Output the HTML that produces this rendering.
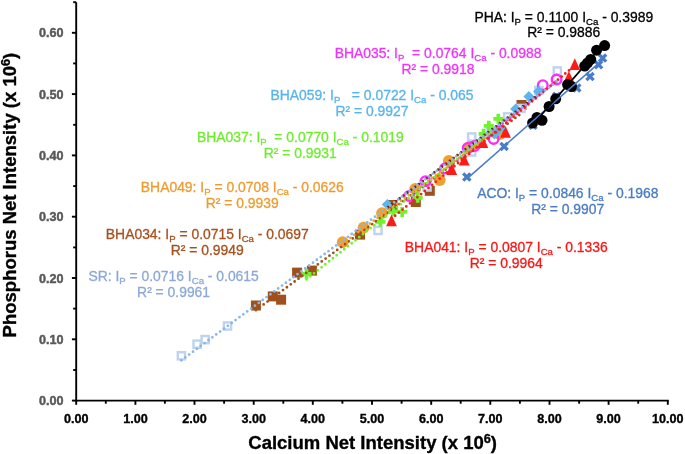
<!DOCTYPE html>
<html><head><meta charset="utf-8"><style>
html,body{margin:0;padding:0;background:#fff;width:685px;height:454px;overflow:hidden}
svg{display:block;will-change:transform}
</style></head><body>
<svg width="685" height="454" viewBox="0 0 685 454">
<rect x="250.9" y="300.5" width="10" height="10" fill="#A0501C"/>
<rect x="267.8" y="291.4" width="10" height="10" fill="#A0501C"/>
<rect x="276.1" y="294.7" width="10" height="10" fill="#A0501C"/>
<rect x="292.1" y="267.6" width="10" height="10" fill="#A0501C"/>
<rect x="306.9" y="265.6" width="10" height="10" fill="#A0501C"/>
<rect x="355.0" y="229.6" width="10" height="10" fill="#A0501C"/>
<rect x="387.5" y="200.0" width="10" height="10" fill="#A0501C"/>
<rect x="410.8" y="197.0" width="10" height="10" fill="#A0501C"/>
<rect x="424.8" y="185.8" width="10" height="10" fill="#A0501C"/>
<rect x="516.5" y="100.0" width="10" height="10" fill="#A0501C"/>
<rect x="177.8" y="352.2" width="7.2" height="7.2" fill="#fff" stroke="#BDD3EF" stroke-width="2.4"/>
<rect x="193.5" y="340.6" width="7.2" height="7.2" fill="#fff" stroke="#BDD3EF" stroke-width="2.4"/>
<rect x="201.6" y="336.0" width="7.2" height="7.2" fill="#fff" stroke="#BDD3EF" stroke-width="2.4"/>
<rect x="223.9" y="322.4" width="7.2" height="7.2" fill="#fff" stroke="#BDD3EF" stroke-width="2.4"/>
<rect x="374.4" y="226.8" width="7.2" height="7.2" fill="#fff" stroke="#BDD3EF" stroke-width="2.4"/>
<rect x="423.4" y="183.4" width="7.2" height="7.2" fill="#fff" stroke="#BDD3EF" stroke-width="2.4"/>
<rect x="468.1" y="133.4" width="7.2" height="7.2" fill="#fff" stroke="#BDD3EF" stroke-width="2.4"/>
<rect x="468.1" y="148.4" width="7.2" height="7.2" fill="#fff" stroke="#BDD3EF" stroke-width="2.4"/>
<rect x="487.3" y="127.5" width="7.2" height="7.2" fill="#fff" stroke="#BDD3EF" stroke-width="2.4"/>
<rect x="504.1" y="113.3" width="7.2" height="7.2" fill="#fff" stroke="#BDD3EF" stroke-width="2.4"/>
<rect x="517.4" y="104.9" width="7.2" height="7.2" fill="#fff" stroke="#BDD3EF" stroke-width="2.4"/>
<rect x="535.2" y="86.9" width="7.2" height="7.2" fill="#fff" stroke="#BDD3EF" stroke-width="2.4"/>
<rect x="553.7" y="67.4" width="7.2" height="7.2" fill="#fff" stroke="#BDD3EF" stroke-width="2.4"/>
<circle cx="342.7" cy="242.2" r="5.9" fill="#F0A030"/>
<circle cx="363.5" cy="227.7" r="5.9" fill="#F0A030"/>
<circle cx="382.0" cy="213.2" r="5.9" fill="#F0A030"/>
<circle cx="415.2" cy="188.8" r="5.9" fill="#F0A030"/>
<circle cx="439.8" cy="180.0" r="5.9" fill="#F0A030"/>
<circle cx="448.8" cy="161.0" r="5.9" fill="#F0A030"/>
<circle cx="469.7" cy="147.0" r="5.9" fill="#F0A030"/>
<circle cx="500.0" cy="134.0" r="5.9" fill="#F0A030"/>
<circle cx="409.2" cy="195.9" r="4.80" fill="none" stroke="#FF2BFF" stroke-width="2.4"/>
<circle cx="425.5" cy="181.2" r="4.80" fill="none" stroke="#FF2BFF" stroke-width="2.4"/>
<circle cx="445.0" cy="168.5" r="4.80" fill="none" stroke="#FF2BFF" stroke-width="2.4"/>
<circle cx="467.7" cy="147.9" r="4.80" fill="none" stroke="#FF2BFF" stroke-width="2.4"/>
<circle cx="474.6" cy="145.9" r="4.80" fill="none" stroke="#FF2BFF" stroke-width="2.4"/>
<circle cx="493.6" cy="139.0" r="4.80" fill="none" stroke="#FF2BFF" stroke-width="2.4"/>
<circle cx="542.8" cy="85.2" r="4.80" fill="none" stroke="#FF2BFF" stroke-width="2.4"/>
<circle cx="556.6" cy="79.5" r="4.80" fill="none" stroke="#FF2BFF" stroke-width="2.4"/>
<path d="M301.5 273.8H311.5M306.5 268.8V278.8" stroke="#70F22E" stroke-width="3.7"/>
<path d="M375.4 221.8H385.4M380.4 216.8V226.8" stroke="#70F22E" stroke-width="3.7"/>
<path d="M388.3 211.4H398.3M393.3 206.4V216.4" stroke="#70F22E" stroke-width="3.7"/>
<path d="M397.2 211.9H407.2M402.2 206.9V216.9" stroke="#70F22E" stroke-width="3.7"/>
<path d="M412.7 197.8H422.7M417.7 192.8V202.8" stroke="#70F22E" stroke-width="3.7"/>
<path d="M478.6 133.8H488.6M483.6 128.8V138.8" stroke="#70F22E" stroke-width="3.7"/>
<path d="M483.8 125.8H493.8M488.8 120.8V130.8" stroke="#70F22E" stroke-width="3.7"/>
<path d="M493.3 118.8H503.3M498.3 113.8V123.8" stroke="#70F22E" stroke-width="3.7"/>
<path d="M391.5 214.6L396.9 226.2L386.1 226.2Z" fill="#FF1A1A"/>
<path d="M451.8 163.3L457.2 174.9L446.4 174.9Z" fill="#FF1A1A"/>
<path d="M464.2 153.9L469.6 165.5L458.8 165.5Z" fill="#FF1A1A"/>
<path d="M482.9 136.3L488.3 147.9L477.5 147.9Z" fill="#FF1A1A"/>
<path d="M505.5 126.1L510.9 137.7L500.1 137.7Z" fill="#FF1A1A"/>
<path d="M568.9 70.9L574.3 82.5L563.5 82.5Z" fill="#FF1A1A"/>
<path d="M574.8 58.3L580.2 69.9L569.4 69.9Z" fill="#FF1A1A"/>
<path d="M387.3 198.9L392.8 204.4L387.3 209.9L381.8 204.4Z" fill="#5CB6EE"/>
<path d="M494.5 128.5L500.0 134.0L494.5 139.5L489.0 134.0Z" fill="#5CB6EE"/>
<path d="M499.5 123.0L505.0 128.5L499.5 134.0L494.0 128.5Z" fill="#5CB6EE"/>
<path d="M515.6 103.4L521.1 108.9L515.6 114.4L510.1 108.9Z" fill="#5CB6EE"/>
<path d="M528.9 90.9L534.4 96.4L528.9 101.9L523.4 96.4Z" fill="#5CB6EE"/>
<path d="M538.5 86.0L544.0 91.5L538.5 97.0L533.0 91.5Z" fill="#5CB6EE"/>
<path d="M463.2 173.4L470.4 180.6M463.2 180.6L470.4 173.4" stroke="#4A7CC8" stroke-width="3.3"/>
<path d="M500.5 142.8L507.7 150.0M500.5 150.0L507.7 142.8" stroke="#4A7CC8" stroke-width="3.3"/>
<path d="M529.4 121.7L536.6 128.9M529.4 128.9L536.6 121.7" stroke="#4A7CC8" stroke-width="3.3"/>
<path d="M552.9 92.9L560.1 100.1M552.9 100.1L560.1 92.9" stroke="#4A7CC8" stroke-width="3.3"/>
<path d="M573.2 84.3L580.4 91.5M573.2 91.5L580.4 84.3" stroke="#4A7CC8" stroke-width="3.3"/>
<path d="M586.4 73.0L593.6 80.2M586.4 80.2L593.6 73.0" stroke="#4A7CC8" stroke-width="3.3"/>
<path d="M595.0 61.1L602.2 68.3M595.0 68.3L602.2 61.1" stroke="#4A7CC8" stroke-width="3.3"/>
<path d="M599.0 54.5L606.2 61.7M599.0 61.7L606.2 54.5" stroke="#4A7CC8" stroke-width="3.3"/>
<circle cx="532.6" cy="123.0" r="5.5" fill="#000000"/>
<circle cx="537.0" cy="117.5" r="5.5" fill="#000000"/>
<circle cx="542.0" cy="120.3" r="5.5" fill="#000000"/>
<circle cx="549.1" cy="106.5" r="5.5" fill="#000000"/>
<circle cx="555.7" cy="98.8" r="5.5" fill="#000000"/>
<circle cx="567.6" cy="84.6" r="5.5" fill="#000000"/>
<circle cx="584.7" cy="66.1" r="5.5" fill="#000000"/>
<circle cx="590.7" cy="59.4" r="5.5" fill="#000000"/>
<circle cx="596.6" cy="50.2" r="5.5" fill="#000000"/>
<circle cx="604.6" cy="45.6" r="5.5" fill="#000000"/>
<circle cx="587.5" cy="63.0" r="5.5" fill="#000000"/>
<circle cx="571.5" cy="86.5" r="5.5" fill="#000000"/>
<line x1="255.9" y1="310.2" x2="521.5" y2="113.4" stroke="#A0501C" stroke-width="2.8" stroke-linecap="round" stroke-dasharray="0 4.82" stroke-dashoffset="0"/>
<line x1="342.7" y1="243.5" x2="489.8" y2="135.6" stroke="#F0A030" stroke-width="2.8" stroke-linecap="round" stroke-dasharray="0 4.82" stroke-dashoffset="0"/>
<line x1="408.3" y1="198.3" x2="556.5" y2="80.9" stroke="#FF2BFF" stroke-width="2.8" stroke-linecap="round" stroke-dasharray="0 4.82" stroke-dashoffset="0"/>
<line x1="391.5" y1="218.8" x2="574.8" y2="65.6" stroke="#FF1A1A" stroke-width="2.8" stroke-linecap="round" stroke-dasharray="0 4.82" stroke-dashoffset="0"/>
<line x1="306.5" y1="279.3" x2="498.3" y2="126.3" stroke="#70F22E" stroke-width="2.8" stroke-linecap="round" stroke-dasharray="0 4.82" stroke-dashoffset="0"/>
<line x1="387.3" y1="207.7" x2="538.5" y2="94.6" stroke="#6E2A14" stroke-width="2.8" stroke-linecap="round" stroke-dasharray="0 4.82" stroke-dashoffset="-0.9"/>
<line x1="181.4" y1="360.3" x2="557.2" y2="81.4" stroke="#8DB6E8" stroke-width="2.8" stroke-linecap="round" stroke-dasharray="0 4.82" stroke-dashoffset="0"/>
<line x1="466.8" y1="178.8" x2="602.6" y2="59.8" stroke="#4A7CC8" stroke-width="1.6"/>
<line x1="532.6" y1="124.9" x2="604.6" y2="42.9" stroke="#000000" stroke-width="1.6"/>
<line x1="76.2" y1="2.2" x2="76.2" y2="401.6" stroke="#000" stroke-width="1.9"/>
<line x1="75.2" y1="400.6" x2="668.8" y2="400.6" stroke="#000" stroke-width="1.9"/>
<line x1="71.9" y1="400.6" x2="76.2" y2="400.6" stroke="#000" stroke-width="1.9"/>
<line x1="73.2" y1="370.0" x2="76.2" y2="370.0" stroke="#000" stroke-width="1.9"/>
<line x1="71.9" y1="339.3" x2="76.2" y2="339.3" stroke="#000" stroke-width="1.9"/>
<line x1="73.2" y1="308.6" x2="76.2" y2="308.6" stroke="#000" stroke-width="1.9"/>
<line x1="71.9" y1="278.0" x2="76.2" y2="278.0" stroke="#000" stroke-width="1.9"/>
<line x1="73.2" y1="247.4" x2="76.2" y2="247.4" stroke="#000" stroke-width="1.9"/>
<line x1="71.9" y1="216.7" x2="76.2" y2="216.7" stroke="#000" stroke-width="1.9"/>
<line x1="73.2" y1="186.1" x2="76.2" y2="186.1" stroke="#000" stroke-width="1.9"/>
<line x1="71.9" y1="155.4" x2="76.2" y2="155.4" stroke="#000" stroke-width="1.9"/>
<line x1="73.2" y1="124.8" x2="76.2" y2="124.8" stroke="#000" stroke-width="1.9"/>
<line x1="71.9" y1="94.1" x2="76.2" y2="94.1" stroke="#000" stroke-width="1.9"/>
<line x1="73.2" y1="63.4" x2="76.2" y2="63.4" stroke="#000" stroke-width="1.9"/>
<line x1="71.9" y1="32.8" x2="76.2" y2="32.8" stroke="#000" stroke-width="1.9"/>
<line x1="73.2" y1="2.2" x2="76.2" y2="2.2" stroke="#000" stroke-width="1.9"/>
<line x1="76.2" y1="400.6" x2="76.2" y2="404.8" stroke="#000" stroke-width="1.9"/>
<line x1="105.8" y1="400.6" x2="105.8" y2="403.7" stroke="#000" stroke-width="1.9"/>
<line x1="135.4" y1="400.6" x2="135.4" y2="404.8" stroke="#000" stroke-width="1.9"/>
<line x1="164.9" y1="400.6" x2="164.9" y2="403.7" stroke="#000" stroke-width="1.9"/>
<line x1="194.5" y1="400.6" x2="194.5" y2="404.8" stroke="#000" stroke-width="1.9"/>
<line x1="224.1" y1="400.6" x2="224.1" y2="403.7" stroke="#000" stroke-width="1.9"/>
<line x1="253.7" y1="400.6" x2="253.7" y2="404.8" stroke="#000" stroke-width="1.9"/>
<line x1="283.3" y1="400.6" x2="283.3" y2="403.7" stroke="#000" stroke-width="1.9"/>
<line x1="312.8" y1="400.6" x2="312.8" y2="404.8" stroke="#000" stroke-width="1.9"/>
<line x1="342.4" y1="400.6" x2="342.4" y2="403.7" stroke="#000" stroke-width="1.9"/>
<line x1="372.0" y1="400.6" x2="372.0" y2="404.8" stroke="#000" stroke-width="1.9"/>
<line x1="401.6" y1="400.6" x2="401.6" y2="403.7" stroke="#000" stroke-width="1.9"/>
<line x1="431.2" y1="400.6" x2="431.2" y2="404.8" stroke="#000" stroke-width="1.9"/>
<line x1="460.7" y1="400.6" x2="460.7" y2="403.7" stroke="#000" stroke-width="1.9"/>
<line x1="490.3" y1="400.6" x2="490.3" y2="404.8" stroke="#000" stroke-width="1.9"/>
<line x1="519.9" y1="400.6" x2="519.9" y2="403.7" stroke="#000" stroke-width="1.9"/>
<line x1="549.5" y1="400.6" x2="549.5" y2="404.8" stroke="#000" stroke-width="1.9"/>
<line x1="579.1" y1="400.6" x2="579.1" y2="403.7" stroke="#000" stroke-width="1.9"/>
<line x1="608.6" y1="400.6" x2="608.6" y2="404.8" stroke="#000" stroke-width="1.9"/>
<line x1="638.2" y1="400.6" x2="638.2" y2="403.7" stroke="#000" stroke-width="1.9"/>
<line x1="667.8" y1="400.6" x2="667.8" y2="404.8" stroke="#000" stroke-width="1.9"/>
<text x="63.4" y="405.1" text-anchor="end" font-family='"Liberation Sans", sans-serif' font-weight="bold" font-size="12.6" fill="#595959" stroke="#595959" stroke-width="0.45">0.00</text>
<text x="63.4" y="343.8" text-anchor="end" font-family='"Liberation Sans", sans-serif' font-weight="bold" font-size="12.6" fill="#595959" stroke="#595959" stroke-width="0.45">0.10</text>
<text x="63.4" y="282.5" text-anchor="end" font-family='"Liberation Sans", sans-serif' font-weight="bold" font-size="12.6" fill="#595959" stroke="#595959" stroke-width="0.45">0.20</text>
<text x="63.4" y="221.2" text-anchor="end" font-family='"Liberation Sans", sans-serif' font-weight="bold" font-size="12.6" fill="#595959" stroke="#595959" stroke-width="0.45">0.30</text>
<text x="63.4" y="159.9" text-anchor="end" font-family='"Liberation Sans", sans-serif' font-weight="bold" font-size="12.6" fill="#595959" stroke="#595959" stroke-width="0.45">0.40</text>
<text x="63.4" y="98.6" text-anchor="end" font-family='"Liberation Sans", sans-serif' font-weight="bold" font-size="12.6" fill="#595959" stroke="#595959" stroke-width="0.45">0.50</text>
<text x="63.4" y="37.3" text-anchor="end" font-family='"Liberation Sans", sans-serif' font-weight="bold" font-size="12.6" fill="#595959" stroke="#595959" stroke-width="0.45">0.60</text>
<text x="76.2" y="422.9" text-anchor="middle" font-family='"Liberation Sans", sans-serif' font-weight="bold" font-size="12.6" fill="#000" stroke="#000" stroke-width="0.35">0.00</text>
<text x="135.4" y="422.9" text-anchor="middle" font-family='"Liberation Sans", sans-serif' font-weight="bold" font-size="12.6" fill="#000" stroke="#000" stroke-width="0.35">1.00</text>
<text x="194.5" y="422.9" text-anchor="middle" font-family='"Liberation Sans", sans-serif' font-weight="bold" font-size="12.6" fill="#000" stroke="#000" stroke-width="0.35">2.00</text>
<text x="253.7" y="422.9" text-anchor="middle" font-family='"Liberation Sans", sans-serif' font-weight="bold" font-size="12.6" fill="#000" stroke="#000" stroke-width="0.35">3.00</text>
<text x="312.8" y="422.9" text-anchor="middle" font-family='"Liberation Sans", sans-serif' font-weight="bold" font-size="12.6" fill="#000" stroke="#000" stroke-width="0.35">4.00</text>
<text x="372.0" y="422.9" text-anchor="middle" font-family='"Liberation Sans", sans-serif' font-weight="bold" font-size="12.6" fill="#000" stroke="#000" stroke-width="0.35">5.00</text>
<text x="431.2" y="422.9" text-anchor="middle" font-family='"Liberation Sans", sans-serif' font-weight="bold" font-size="12.6" fill="#000" stroke="#000" stroke-width="0.35">6.00</text>
<text x="490.3" y="422.9" text-anchor="middle" font-family='"Liberation Sans", sans-serif' font-weight="bold" font-size="12.6" fill="#000" stroke="#000" stroke-width="0.35">7.00</text>
<text x="549.5" y="422.9" text-anchor="middle" font-family='"Liberation Sans", sans-serif' font-weight="bold" font-size="12.6" fill="#000" stroke="#000" stroke-width="0.35">8.00</text>
<text x="608.6" y="422.9" text-anchor="middle" font-family='"Liberation Sans", sans-serif' font-weight="bold" font-size="12.6" fill="#000" stroke="#000" stroke-width="0.35">9.00</text>
<text x="667.8" y="422.9" text-anchor="middle" font-family='"Liberation Sans", sans-serif' font-weight="bold" font-size="12.6" fill="#000" stroke="#000" stroke-width="0.35">10.00</text>
<text x="248.3" y="449" font-family='"Liberation Sans", sans-serif' font-weight="bold" font-size="18.5" fill="#000" stroke="#000" stroke-width="0.35">Calcium Net Intensity (x 10<tspan font-size="12.8" dy="-5.8">6</tspan><tspan dy="5.8">)</tspan></text>
<text transform="translate(16.0,337.4) rotate(-90)" x="0" y="0" font-family='"Liberation Sans", sans-serif' font-weight="bold" font-size="18.5" fill="#000" stroke="#000" stroke-width="0.35">Phosphorus Net Intensity (x 10<tspan font-size="12.8" dy="-5.8">6</tspan><tspan dy="5.8">)</tspan></text>
<text x="563.8" y="21.5" text-anchor="middle" font-family='"Liberation Sans", sans-serif' font-size="13.9" fill="#000000" stroke="#000000" stroke-width="0.3" xml:space="preserve">PHA: I<tspan font-size="9.6" dy="3">P</tspan><tspan dy="-3"> = 0.1100 I</tspan><tspan font-size="9.6" dy="3">Ca</tspan><tspan dy="-3"> - 0.3989</tspan></text>
<text x="563.8" y="37.4" text-anchor="middle" font-family='"Liberation Sans", sans-serif' font-size="13.9" fill="#000000" stroke="#000000" stroke-width="0.3">R² = 0.9886</text>
<text x="438.0" y="58.4" text-anchor="middle" font-family='"Liberation Sans", sans-serif' font-size="13.9" fill="#EE34FA" stroke="#EE34FA" stroke-width="0.3" xml:space="preserve">BHA035: I<tspan font-size="9.6" dy="3">P</tspan><tspan dy="-3">  = 0.0764 I</tspan><tspan font-size="9.6" dy="3">Ca</tspan><tspan dy="-3"> - 0.0988</tspan></text>
<text x="438.0" y="74.3" text-anchor="middle" font-family='"Liberation Sans", sans-serif' font-size="13.9" fill="#EE34FA" stroke="#EE34FA" stroke-width="0.3">R² = 0.9918</text>
<text x="372.0" y="99.7" text-anchor="middle" font-family='"Liberation Sans", sans-serif' font-size="13.9" fill="#58B4EE" stroke="#58B4EE" stroke-width="0.3" xml:space="preserve">BHA059: I<tspan font-size="9.6" dy="3">P</tspan><tspan dy="-3">   = 0.0722 I</tspan><tspan font-size="9.6" dy="3">Ca</tspan><tspan dy="-3"> - 0.065</tspan></text>
<text x="372.0" y="115.6" text-anchor="middle" font-family='"Liberation Sans", sans-serif' font-size="13.9" fill="#58B4EE" stroke="#58B4EE" stroke-width="0.3">R² = 0.9927</text>
<text x="300.3" y="142.3" text-anchor="middle" font-family='"Liberation Sans", sans-serif' font-size="13.9" fill="#70EC30" stroke="#70EC30" stroke-width="0.3" xml:space="preserve">BHA037: I<tspan font-size="9.6" dy="3">P</tspan><tspan dy="-3">  = 0.0770 I</tspan><tspan font-size="9.6" dy="3">Ca</tspan><tspan dy="-3"> - 0.1019</tspan></text>
<text x="300.3" y="158.2" text-anchor="middle" font-family='"Liberation Sans", sans-serif' font-size="13.9" fill="#70EC30" stroke="#70EC30" stroke-width="0.3">R² = 0.9931</text>
<text x="242.3" y="191.8" text-anchor="middle" font-family='"Liberation Sans", sans-serif' font-size="13.9" fill="#EE9C30" stroke="#EE9C30" stroke-width="0.3" xml:space="preserve">BHA049: I<tspan font-size="9.6" dy="3">P</tspan><tspan dy="-3"> = 0.0708 I</tspan><tspan font-size="9.6" dy="3">Ca</tspan><tspan dy="-3"> - 0.0626</tspan></text>
<text x="242.3" y="207.7" text-anchor="middle" font-family='"Liberation Sans", sans-serif' font-size="13.9" fill="#EE9C30" stroke="#EE9C30" stroke-width="0.3">R² = 0.9939</text>
<text x="207.3" y="239.4" text-anchor="middle" font-family='"Liberation Sans", sans-serif' font-size="13.9" fill="#A8501E" stroke="#A8501E" stroke-width="0.3" xml:space="preserve">BHA034: I<tspan font-size="9.6" dy="3">P</tspan><tspan dy="-3"> = 0.0715 I</tspan><tspan font-size="9.6" dy="3">Ca</tspan><tspan dy="-3"> - 0.0697</tspan></text>
<text x="207.3" y="255.3" text-anchor="middle" font-family='"Liberation Sans", sans-serif' font-size="13.9" fill="#A8501E" stroke="#A8501E" stroke-width="0.3">R² = 0.9949</text>
<text x="173.6" y="281.1" text-anchor="middle" font-family='"Liberation Sans", sans-serif' font-size="13.9" fill="#8CA9D6" stroke="#8CA9D6" stroke-width="0.3" xml:space="preserve">SR: I<tspan font-size="9.6" dy="3">P</tspan><tspan dy="-3"> = 0.0716 I</tspan><tspan font-size="9.6" dy="3">Ca</tspan><tspan dy="-3"> - 0.0615</tspan></text>
<text x="173.6" y="297.0" text-anchor="middle" font-family='"Liberation Sans", sans-serif' font-size="13.9" fill="#8CA9D6" stroke="#8CA9D6" stroke-width="0.3">R² = 0.9961</text>
<text x="567.8" y="197.8" text-anchor="middle" font-family='"Liberation Sans", sans-serif' font-size="13.9" fill="#4A7CC4" stroke="#4A7CC4" stroke-width="0.3" xml:space="preserve">ACO: I<tspan font-size="9.6" dy="3">P</tspan><tspan dy="-3"> = 0.0846 I</tspan><tspan font-size="9.6" dy="3">Ca</tspan><tspan dy="-3"> - 0.1968</tspan></text>
<text x="567.8" y="213.7" text-anchor="middle" font-family='"Liberation Sans", sans-serif' font-size="13.9" fill="#4A7CC4" stroke="#4A7CC4" stroke-width="0.3">R² = 0.9907</text>
<text x="506.3" y="252.0" text-anchor="middle" font-family='"Liberation Sans", sans-serif' font-size="13.9" fill="#FA1616" stroke="#FA1616" stroke-width="0.3" xml:space="preserve">BHA041: I<tspan font-size="9.6" dy="3">P</tspan><tspan dy="-3"> = 0.0807 I</tspan><tspan font-size="9.6" dy="3">Ca</tspan><tspan dy="-3"> - 0.1336</tspan></text>
<text x="506.3" y="267.9" text-anchor="middle" font-family='"Liberation Sans", sans-serif' font-size="13.9" fill="#FA1616" stroke="#FA1616" stroke-width="0.3">R² = 0.9964</text>
</svg>
</body></html>
